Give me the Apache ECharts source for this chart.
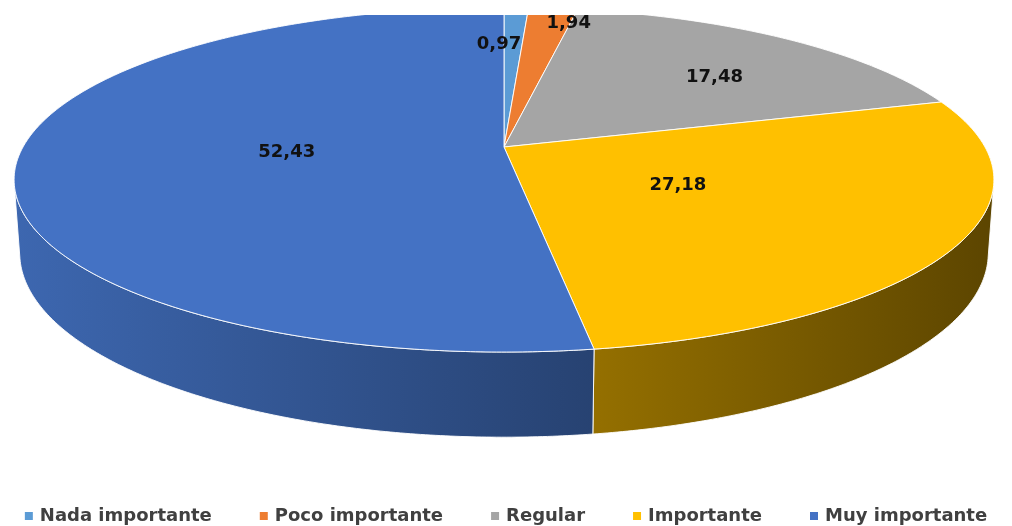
<!DOCTYPE html>
<html>
<head>
<meta charset="utf-8">
<script src="https://cdn.jsdelivr.net/npm/echarts@6/dist/echarts.min.js"></script>
<style>
  html, body { margin: 0; padding: 0; background: #ffffff; }
  #chart { position: absolute; left: 0; top: 15px; width: 1012px; height: 511px; }
</style>
</head>
<body>
<div id="chart"></div>
<script>
// Share of answers per importance level (percent)
const categories = ['Nada importante', 'Poco importante', 'Regular', 'Importante', 'Muy importante'];
const values = [0.97, 1.94, 17.48, 27.18, 52.43];
const colors = ['#5B9BD5', '#ED7D31', '#A5A5A5', '#FFC000', '#4472C4'];

// Perspective camera for the tilted disc (unit radius)
const view = {
  cx: 504, cy: 132,          // screen position of the disc centre
  F: 2376, D: 4.94,          // focal length and camera distance
  tilt: 20.2 * Math.PI / 180,
  thick: 0.16                // thickness of the disc
};
// label placement along each slice's middle radius
const labelRadius = [0.70, 0.87, 0.61, 0.41, 0.45];
const labelShift = [[-14, 0], [21, 0], [30, 0], [0, 0], [0, 0]];

const total = values.reduce((a, b) => a + b, 0);
const before = values.map((v, i) => values.slice(0, i).reduce((a, b) => a + b, 0));

function project(X, Y, Z) {
  const ca = Math.cos(view.tilt), sa = Math.sin(view.tilt);
  const yv = Y * ca + Z * sa;
  const zv = view.D + Z * ca - Y * sa;
  return [view.cx + view.F * X / zv, view.cy - view.F * yv / zv];
}
function rimPoint(theta, r, Y) {
  return project(r * Math.sin(theta), Y, r * Math.cos(theta));
}
function arc(a0, a1, r, Y) {
  const n = Math.max(2, Math.ceil((a1 - a0) / (Math.PI / 360)));
  const pts = [];
  for (let k = 0; k <= n; k++) pts.push(rimPoint(a0 + (a1 - a0) * k / n, r, Y));
  return pts;
}
function shade(hex, f) {
  const n = parseInt(hex.slice(1), 16);
  const r = Math.round(((n >> 16) & 255) * f);
  const g = Math.round(((n >> 8) & 255) * f);
  const b = Math.round((n & 255) * f);
  return 'rgb(' + r + ',' + g + ',' + b + ')';
}
// the outer wall faces the camera where cos(theta) < -1 / (D cos(tilt))
const wallLimit = Math.acos(-1 / (view.D * Math.cos(view.tilt)));

function makeRender(i) {
  return function (params, api) {
    const v = api.value(0);
    const a0 = 2 * Math.PI * before[i] / total;
    const a1 = a0 + 2 * Math.PI * v / total;
    const children = [];
    const base = colors[i];

    // outer wall
    const s0 = Math.max(a0, wallLimit), s1 = Math.min(a1, 2 * Math.PI - wallLimit);
    if (s1 > s0) {
      const topEdge = arc(s0, s1, 1, 0);
      const bottomEdge = arc(s0, s1, 1, -view.thick).reverse();
      children.push({
        type: 'polygon',
        z2: 1,
        shape: { points: topEdge.concat(bottomEdge) },
        style: {
          fill: {
            type: 'linear', x: 14, y: 0, x2: 994, y2: 0, global: true,
            colorStops: [
              { offset: 0, color: shade(base, 0.90) },
              { offset: 1, color: shade(base, 0.36) }
            ]
          },
          stroke: 'rgba(255,255,255,0.9)', lineWidth: 1, lineJoin: 'round'
        }
      });
    }

    // top face
    const c = project(0, 0, 0);
    children.push({
      type: 'polygon',
      z2: 2,
      shape: { points: [c].concat(arc(a0, a1, 1, 0)) },
      style: { fill: base, stroke: 'rgba(255,255,255,0.9)', lineWidth: 1, lineJoin: 'round' }
    });

    // value label
    const mid = (a0 + a1) / 2;
    const p = rimPoint(mid, labelRadius[i], 0);
    children.push({
      type: 'text',
      z2: 10,
      x: p[0] + labelShift[i][0],
      y: p[1] + labelShift[i][1],
      style: {
        text: v.toFixed(2).replace('.', ','),
        fill: '#111111',
        fontFamily: 'DejaVu Sans',
        fontWeight: 'bold',
        fontSize: 18,
        align: 'center',
        verticalAlign: 'middle'
      }
    });
    return { type: 'group', children: children };
  };
}

const chart = echarts.init(document.getElementById('chart'), null, { renderer: 'canvas' });
chart.setOption({
  animation: false,
  backgroundColor: '#ffffff',
  legend: {
    data: categories,
    left: 'center',
    top: 486,
    icon: 'rect',
    itemWidth: 8,
    itemHeight: 8,
    itemGap: 48,
    textStyle: {
      fontFamily: 'DejaVu Sans',
      fontWeight: 'bold',
      fontSize: 18,
      color: '#404040',
      lineHeight: 20,
      padding: [0, 0, 0, 2]
    }
  },
  series: categories.map((name, i) => ({
    type: 'custom',
    name: name,
    coordinateSystem: 'none',
    itemStyle: { color: colors[i] },
    renderItem: makeRender(i),
    data: [values[i]]
  }))
});
</script>
</body>
</html>
